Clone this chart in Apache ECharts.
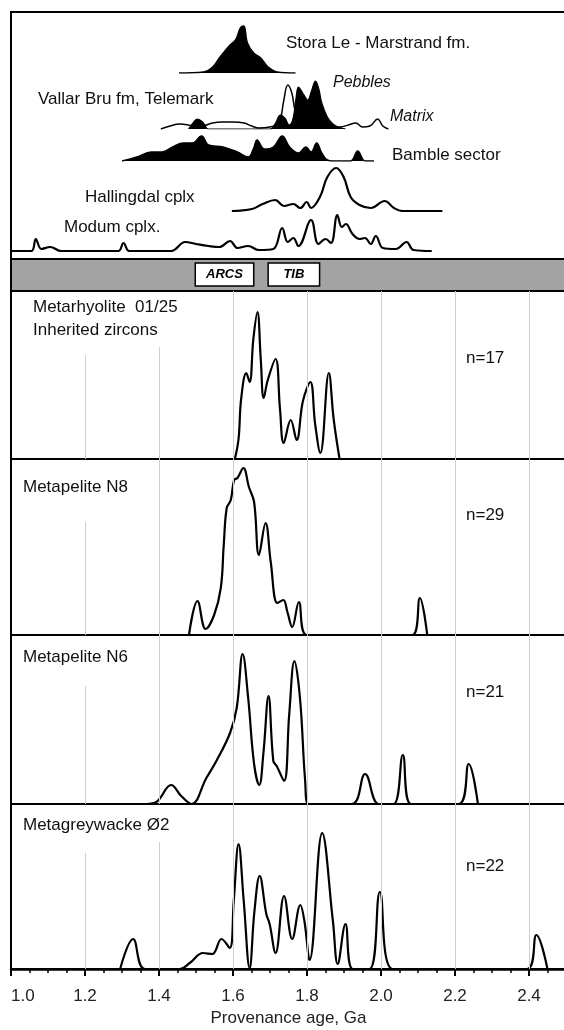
<!DOCTYPE html>
<html><head><meta charset="utf-8">
<script src="https://cdn.jsdelivr.net/npm/echarts@6/dist/echarts.min.js"></script>
<style>html,body{margin:0;padding:0;background:#fff}#c{width:564px;height:1030px}</style>
</head><body><div id="c"></div><script>
// ---------- DATA (age in Ga, relative probability density) ----------
const xTickLabels = ['1.0','1.2','1.4','1.6','1.8','2.0','2.2','2.4'];
const gridAges = [1.2, 1.4, 1.6, 1.8, 2.0, 2.2, 2.4];

const storaLe = [[1.454,0],[1.52,1],[1.545,6],[1.563,15],[1.592,28],[1.607,33],[1.620,45],[1.629,47],[1.639,30],[1.656,20],[1.675,15],[1.695,6],[1.719,1],[1.769,0]];
const vallarMatrix = [[1.405,0],[1.43,3],[1.455,5],[1.48,4],[1.50,2],[1.52,3],[1.545,6],[1.57,7],[1.60,7],[1.63,6],[1.65,3],[1.67,1],[1.70,2],[1.716,4],[1.728,10],[1.737,28],[1.748,44],[1.759,36],[1.768,18],[1.78,9],[1.80,5],[1.84,3],[1.89,2],[1.912,4],[1.932,6],[1.95,2],[1.97,3],[1.991,10],[2.005,3],[2.02,0]];
const vallarPebbles = [[1.48,0],[1.492,6],[1.503,10],[1.518,7],[1.534,0],[1.70,0],[1.715,6],[1.728,14],[1.74,11],[1.752,4],[1.762,10],[1.770,30],[1.777,42],[1.790,35],[1.802,29],[1.812,38],[1.823,48],[1.832,40],[1.840,26],[1.855,12],[1.870,5],[1.884,2],[1.904,0]];
const bamble = [[1.30,0],[1.34,4],[1.379,9],[1.408,9],[1.437,14],[1.466,18],[1.49,18],[1.515,25],[1.534,16],[1.573,14],[1.612,9],[1.641,4],[1.656,13],[1.665,21],[1.685,12],[1.709,14],[1.733,25],[1.753,14],[1.777,8],[1.797,14],[1.811,9],[1.826,18],[1.84,8],[1.855,1],[1.87,0],[1.918,0],[1.937,10],[1.957,0],[1.981,0]];
const hallingdal = [[1.597,0],[1.651,2],[1.68,7],[1.714,11],[1.738,5],[1.763,7],[1.782,3],[1.799,9],[1.811,3],[1.835,14],[1.855,34],[1.879,43],[1.899,34],[1.918,14],[1.942,6],[1.972,3],[2.01,10],[2.035,3],[2.059,0],[2.166,0]];
const modum = [[1.0,0],[1.055,0],[1.067,12],[1.082,2],[1.106,4],[1.136,0],[1.29,0],[1.304,8],[1.32,0],[1.432,0],[1.471,9],[1.50,7],[1.534,5],[1.563,4],[1.592,10],[1.612,3],[1.641,5],[1.670,1],[1.709,2],[1.733,23],[1.748,9],[1.763,13],[1.777,5],[1.811,31],[1.831,7],[1.850,12],[1.865,8],[1.882,36],[1.894,24],[1.905,27],[1.923,17],[1.942,12],[1.957,13],[1.972,7],[1.986,15],[2.005,3],[2.04,2],[2.069,9],[2.088,1],[2.137,0]];

const metarhyolite = [[1.605,0],[1.615,20],[1.622,60],[1.636,86],[1.645,77],[1.655,120],[1.666,147],[1.675,100],[1.683,61],[1.694,79],[1.715,100],[1.727,50],[1.737,16],[1.756,39],[1.772,19],[1.789,58],[1.809,77],[1.822,35],[1.836,6],[1.859,86],[1.872,40],[1.888,0]];
const metapeliteN8 = [[1.481,0],[1.504,34],[1.526,6],[1.549,20],[1.567,47],[1.575,90],[1.583,127],[1.594,135],[1.603,155],[1.612,157],[1.628,167],[1.643,148],[1.657,133],[1.670,80],[1.688,112],[1.702,73],[1.720,32],[1.736,35],[1.747,23],[1.760,8],[1.778,33],[1.799,0],[2.085,0],[2.105,37],[2.125,0]];
const metapeliteN6 = [[1.366,0],[1.393,2],[1.433,19],[1.46,8],[1.488,0],[1.528,26],[1.555,43],[1.592,71],[1.610,96],[1.626,150],[1.641,106],[1.657,40],[1.671,19],[1.682,50],[1.696,108],[1.709,43],[1.718,38],[1.738,23],[1.752,90],[1.766,143],[1.781,106],[1.795,23],[1.804,0],[1.921,0],[1.957,30],[1.994,0],[2.034,0],[2.059,49],[2.081,0],[2.21,0],[2.237,40],[2.262,0]];
const metagreywacke = [[1.295,0],[1.33,30],[1.362,0],[1.456,0],[1.483,6],[1.519,16],[1.544,15],[1.569,30],[1.591,21],[1.602,68],[1.615,125],[1.629,68],[1.645,1],[1.658,58],[1.672,93],[1.690,55],[1.699,45],[1.715,16],[1.738,73],[1.760,30],[1.782,64],[1.793,48],[1.807,9],[1.841,136],[1.870,48],[1.883,5],[1.904,45],[1.924,0],[1.969,0],[1.997,77],[2.032,0],[2.395,0],[2.42,34],[2.45,0]];

const bandBoxes = [['ARCS',1.498,1.656],['TIB',1.695,1.834]];

// ---------- LAYOUT ----------
const FONT = '"Liberation Sans", Arial, sans-serif';
const L = 11, W = 555;
const grids = [], xAxes = [], yAxes = [], series = [];
function addGrid(top, height, ymax, extra) {
  const i = grids.length;
  grids.push(Object.assign({left: L, width: W, top: top, height: height, show: false, containLabel: false, outerBoundsMode: 'none'}, extra || {}));
  xAxes.push({gridIndex: i, type: 'value', min: 1.0, max: 2.5, show: false});
  yAxes.push({gridIndex: i, type: 'value', min: 0, max: ymax, show: false});
  return i;
}
// top frame
addGrid(12, 247, 1, {show: true, borderColor: '#000', borderWidth: 2});
// band
const gBand = addGrid(259, 32, 32, {show: true, borderColor: '#000', borderWidth: 2, backgroundColor: '#a3a3a3'});
series.push({type: 'line', xAxisIndex: gBand, yAxisIndex: gBand, data: [], silent: true,
  markArea: {silent: true, itemStyle: {color: '#fff', borderColor: '#000', borderWidth: 1.5},
    label: {show: true, position: 'inside', color: '#000', fontFamily: FONT, fontSize: 13, fontWeight: 'bold', fontStyle: 'italic'},
    data: bandBoxes.map(b => [{name: b[0], coord: [b[1], 5]}, {coord: [b[2], 28]}])}});

function topCurve(bottom, data, fill, lineW, z) {
  const g = addGrid(bottom - 50, 50, 50);
  series.push({type: 'line', xAxisIndex: g, yAxisIndex: g, data: data, smooth: 0.4, symbol: 'none', z: z || 3,
    lineStyle: {color: '#000', width: lineW},
    areaStyle: fill ? {color: fill, opacity: 1} : undefined});
  return g;
}
topCurve(73, storaLe, '#000', 1.5);
const gV = topCurve(129, vallarMatrix, '#fff', 1.5, 3);
series.push({type: 'line', xAxisIndex: gV, yAxisIndex: gV, data: vallarPebbles, smooth: 0.4, symbol: 'none', z: 4,
  lineStyle: {color: '#000', width: 1.2}, areaStyle: {color: '#000', opacity: 1}});
topCurve(161, bamble, '#000', 1.5);
topCurve(211, hallingdal, null, 2.2);
topCurve(251, modum, null, 2.2);

const panels = [
  {top: 291, height: 168, data: metarhyolite, short: {1.2: 104, 1.4: 112}},
  {top: 459, height: 176, data: metapeliteN8, short: {1.2: 113}},
  {top: 635, height: 169, data: metapeliteN6, short: {1.2: 118}},
  {top: 804, height: 165, data: metagreywacke, short: {1.2: 116, 1.4: 127}}
];
panels.forEach((p, k) => {
  const g = addGrid(p.top, p.height, p.height, {show: true, borderColor: '#000', borderWidth: 2});
  series.push({type: 'line', xAxisIndex: g, yAxisIndex: g, data: [], z: 1, silent: true,
    markLine: {silent: true, symbol: 'none', label: {show: false},
      lineStyle: {color: '#cfcfcf', width: 1, type: 'solid'},
      data: gridAges.map(a => [{coord: [a, 0]}, {coord: [a, p.short[a] !== undefined ? p.short[a] : p.height]}])}});
  series.push({type: 'line', xAxisIndex: g, yAxisIndex: g, data: p.data, smooth: 0.4, symbol: 'none', z: 3,
    lineStyle: {color: '#000', width: 2.2}});
  if (k === panels.length - 1) {
    xAxes[g] = {gridIndex: g, type: 'value', min: 1.0, max: 2.5, interval: 0.2, show: true,
      axisLine: {show: true, lineStyle: {color: '#000', width: 2.5}},
      axisTick: {show: true, inside: false, length: 7, lineStyle: {color: '#000', width: 2}},
      minorTick: {show: true, splitNumber: 4, length: 4, lineStyle: {color: '#000', width: 1.5}},
      splitLine: {show: false},
      axisLabel: {show: true, margin: 19, fontSize: 17, color: '#222', fontFamily: FONT, showMaxLabel: false, hideOverlap: false,
        alignMinLabel: 'left',
        formatter: v => { const s = v.toFixed(1); return xTickLabels.indexOf(s) >= 0 ? s : ''; }},
      name: 'Provenance age, Ga', nameLocation: 'middle', nameGap: 41,
      nameTextStyle: {fontSize: 17, color: '#222', fontFamily: FONT}};
  }
});

function txt(x, y, s, opts) {
  return {type: 'text', x: x, y: y, z: 100, silent: true,
    style: Object.assign({text: s, font: '17px ' + FONT, fill: '#111', textVerticalAlign: 'middle', verticalAlign: 'middle'}, opts || {})};
}
const italic = {font: 'italic 16px ' + FONT};
const graphic = [
  txt(286, 43, 'Stora Le - Marstrand fm.'),
  txt(333, 83, 'Pebbles', italic),
  txt(38, 99, 'Vallar Bru fm, Telemark'),
  txt(390, 117, 'Matrix', italic),
  txt(392, 155, 'Bamble sector'),
  txt(85, 197, 'Hallingdal cplx'),
  txt(64, 227, 'Modum cplx.'),
  txt(33, 307, 'Metarhyolite  01/25'),
  txt(33, 330, 'Inherited zircons'),
  txt(466, 358, 'n=17'),
  txt(23, 487, 'Metapelite N8'),
  txt(466, 515, 'n=29'),
  txt(23, 657, 'Metapelite N6'),
  txt(466, 692, 'n=21'),
  txt(23, 825, 'Metagreywacke Ø2'),
  txt(466, 866, 'n=22')
];

const chart = echarts.init(document.getElementById('c'), null, {renderer: 'canvas'});
chart.setOption({animation: false, backgroundColor: '#fff', grid: grids, xAxis: xAxes, yAxis: yAxes, series: series, graphic: graphic});
</script></body></html>
